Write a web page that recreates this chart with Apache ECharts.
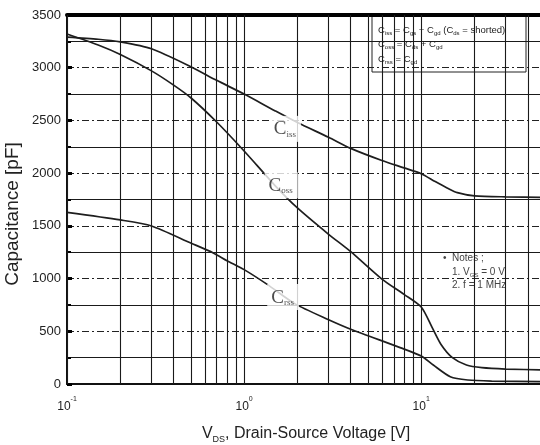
<!DOCTYPE html>
<html>
<head>
<meta charset="utf-8">
<script src="https://cdn.jsdelivr.net/npm/echarts@6/dist/echarts.min.js"></script>
<style>
  html, body { margin: 0; padding: 0; background: #fff; }
  #chart { width: 540px; height: 445px; }
</style>
</head>
<body>
<div id="chart"></div>
<script>
// Capacitance vs drain-source voltage (V_GS = 0 V, f = 1 MHz)
const cissV = [0.1, 0.15, 0.2, 0.3, 0.5, 0.7, 1, 1.5, 2, 3, 4, 6, 8, 10, 12, 14, 16, 20, 30, 50];
const cissC = [3290, 3270, 3245, 3180, 3010, 2880, 2750, 2590, 2480, 2340, 2235, 2120, 2050, 1995, 1920, 1860, 1815, 1785, 1775, 1770];

const cossV = [0.1, 0.15, 0.2, 0.3, 0.4, 0.5, 0.7, 1, 1.5, 2, 3, 4, 6, 8, 10, 11.5, 13, 15, 18, 22, 30, 50];
const cossC = [3320, 3215, 3125, 2970, 2835, 2715, 2485, 2210, 1880, 1670, 1420, 1255, 995, 850, 730, 540, 370, 250, 180, 155, 142, 133];

const crssV = [0.1, 0.2, 0.3, 0.5, 0.67, 0.8, 1, 1.35, 1.94, 3, 4, 7.6, 10, 11.7, 14.6, 18.3, 25, 50];
const crssC = [1628, 1556, 1499, 1337, 1243, 1170, 1085, 945, 760, 610, 520, 345, 265, 180, 69, 38, 28, 22];

// vertical grid positions on the log voltage axis
const vGrid = [0.1, 0.2, 0.3, 0.4, 0.5, 0.6, 0.7, 0.8, 0.9, 1, 2, 3, 4, 5, 6, 7, 8, 9, 10, 20, 30, 40];

// curve name labels: [voltage, capacitance, subscript]
const curveLabels = [
  [1.71, 2420, 'iss'],
  [1.62, 1885, 'oss'],
  [1.66, 825, 'rss']
];

const zip = (xs, ys) => xs.map((x, i) => [x, ys[i]]);

const chart = echarts.init(document.getElementById('chart'), null, { renderer: 'canvas' });

const ink = '#1e1e1e';
const serifFont = '"Liberation Serif", "DejaVu Serif", serif';
const sansFont = '"Liberation Sans", Arial, sans-serif';

// rich-text pieces: normal text and a lowered subscript
function richPair(size, subSize, drop, color, family, colorKey) {
  const base = { fontFamily: family, fontSize: size, lineHeight: size, verticalAlign: 'top' };
  const sub = { fontFamily: family, fontSize: subSize, lineHeight: subSize, verticalAlign: 'top',
                padding: [drop, 0, 0, 0] };
  base[colorKey] = color; sub[colorKey] = color;
  return { t: base, s: sub };
}

function curve(name, data) {
  return {
    name, type: 'line', data, symbol: 'none', smooth: 0.25,
    lineStyle: { color: ink, width: 1.7 }, z: 3, silent: true
  };
}

const labelSeries = {
  type: 'scatter',
  data: curveLabels.map(d => ({ value: [d[0], d[1]], sub: d[2] })),
  symbolSize: 0,
  z: 5,
  silent: true,
  label: {
    show: true,
    position: 'inside',
    color: ink,
    textBorderWidth: 0,
    formatter: p => '{t|C}{s|' + p.data.sub + '}',
    backgroundColor: '#fff',
    padding: [4, 5, 3, 4],
    rich: richPair(19, 9, 10, ink, serifFont, 'color')
  }
};

const gridLineSeries = {
  type: 'line',
  data: [],
  silent: true,
  z: 1,
  markLine: {
    silent: true,
    symbol: 'none',
    label: { show: false },
    lineStyle: { color: '#1a1a1a', width: 1.1, type: 'solid' },
    data: vGrid.map(v => ({ xAxis: v }))
  }
};

const xNameRich = richPair(16, 9, 9, '#222', sansFont, 'color');
const legendRich = richPair(9.5, 6, 5, '#222', sansFont, 'fill');
const notesRich = richPair(10, 6, 5, '#444', sansFont, 'fill');

chart.setOption({
  animation: false,
  backgroundColor: '#fff',
  grid: { left: 67, right: -5, top: 15, bottom: 61, containLabel: false, outerBoundsMode: 'none' },
  xAxis: [{
    type: 'log',
    logBase: 10,
    min: 0.1,
    max: 50,
    axisLine: { show: true, onZero: false, lineStyle: { color: '#111', width: 2 } },
    axisTick: { show: false },
    splitLine: { show: false },
    axisLabel: {
      showMaxLabel: false,
      margin: 12,
      formatter: v => '{b|10}{p|' + Math.round(Math.log10(v)) + '}',
      rich: {
        b: { fontFamily: sansFont, fontSize: 12, color: '#222', lineHeight: 12, verticalAlign: 'top', padding: [5, 0, 0, 0] },
        p: { fontFamily: sansFont, fontSize: 7, color: '#222', lineHeight: 7, verticalAlign: 'top' }
      }
    },
    name: '{t|V}{s|DS}{t|, Drain-Source Voltage [V]}',
    nameLocation: 'middle',
    nameGap: 42,
    nameTextStyle: { rich: xNameRich }
  }, {
    // heavy top frame
    type: 'log', logBase: 10, min: 0.1, max: 50, position: 'top',
    axisLine: { show: true, onZero: false, lineStyle: { color: '#000', width: 4 } },
    axisTick: { show: false }, axisLabel: { show: false }, splitLine: { show: false }
  }],
  yAxis: {
    type: 'value',
    min: 0,
    max: 3500,
    interval: 500,
    axisLine: { show: true, lineStyle: { color: '#111', width: 2 } },
    axisTick: { show: true, inside: true, length: 5, lineStyle: { color: '#000', width: 3 } },
    minorTick: { show: true, splitNumber: 2, length: 4, lineStyle: { color: '#000', width: 2 } },
    splitLine: { show: true, lineStyle: { color: '#222', width: 1.1, type: [7, 3, 2, 3] } },
    minorSplitLine: { show: true, lineStyle: { color: '#1a1a1a', width: 1.1, type: 'solid' } },
    axisLabel: { fontFamily: sansFont, fontSize: 13, color: '#222', margin: 6, formatter: v => String(v) }
  },
  series: [
    gridLineSeries,
    curve('Ciss', zip(cissV, cissC)),
    curve('Coss', zip(cossV, cossC)),
    curve('Crss', zip(crssV, crssC)),
    labelSeries
  ],
  graphic: [
    {
      type: 'text', x: 13, y: 214, rotation: Math.PI / 2, z: 10,
      style: { text: 'Capacitance [pF]', fontFamily: sansFont, fontSize: 19, fill: '#222',
               align: 'center', verticalAlign: 'middle' }
    },
    {
      type: 'group', x: 372, y: 16, z: 10,
      children: [
        { type: 'rect', shape: { x: 0, y: 0, width: 154, height: 56 },
          style: { fill: '#fff', stroke: '#222', lineWidth: 1 } },
        { type: 'text', x: 6, y: 9,
          style: { text: '{t|C}{s|iss}{t| = C}{s|gs}{t| + C}{s|gd}{t| (C}{s|ds}{t| = shorted)}', rich: legendRich } },
        { type: 'text', x: 6, y: 23,
          style: { text: '{t|C}{s|oss}{t| = C}{s|ds}{t| + C}{s|gd}', rich: legendRich } },
        { type: 'text', x: 6, y: 38,
          style: { text: '{t|C}{s|rss}{t| = C}{s|gd}', rich: legendRich } }
      ]
    },
    {
      type: 'group', x: 431, y: 243, z: 10,
      children: [
        { type: 'rect', shape: { x: 0, y: 0, width: 88, height: 56 },
          style: { fill: '#fff' } },
        { type: 'text', x: 12, y: 10, style: { text: '{t|•  Notes ;}', rich: notesRich } },
        { type: 'text', x: 21, y: 24, style: { text: '{t|1. V}{s|GS}{t| = 0 V}', rich: notesRich } },
        { type: 'text', x: 21, y: 37, style: { text: '{t|2. f = 1 MHz}', rich: notesRich } }
      ]
    }
  ]
});
</script>
</body>
</html>
